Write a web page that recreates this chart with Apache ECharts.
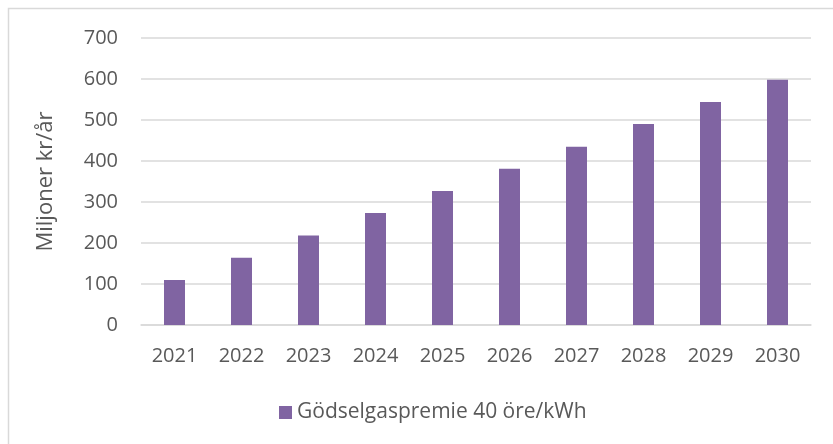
<!DOCTYPE html>
<html>
<head>
<meta charset="utf-8">
<script src="https://cdn.jsdelivr.net/npm/echarts@6/dist/echarts.min.js"></script>
<style>
  html, body { margin: 0; padding: 0; background: #fff; }
  #chart { width: 833px; height: 444px; }
</style>
</head>
<body>
<div id="chart"></div>
<script>
// Annual manure-gas premium, million SEK per year
const years = ['2021', '2022', '2023', '2024', '2025', '2026', '2027', '2028', '2029', '2030'];
const premium = [110, 164, 218, 273, 327, 381, 435, 490, 544, 598];
const seriesName = 'Gödselgaspremie 40 öre/kWh';
const yAxisName = 'Miljoner kr/år';

const textColor = '#595959';
const fontFamily = '"Open Sans", "Liberation Sans", sans-serif';

const chart = echarts.init(document.getElementById('chart'), null, { renderer: 'canvas' });

chart.setOption({
  animation: false,
  backgroundColor: '#ffffff',
  textStyle: { fontFamily: fontFamily, color: textColor },
  graphic: [{
    type: 'rect',
    shape: { x: 8.5, y: 8.5, width: 900, height: 500 },
    style: { fill: 'none', stroke: '#d9d9d9', lineWidth: 1.5 },
    silent: true
  }],
  grid: { left: 141, right: 22, top: 38, bottom: 119, containLabel: false },
  legend: {
    data: [seriesName],
    left: 274,
    top: 397,
    itemWidth: 13,
    itemHeight: 13,
    itemGap: 6,
    icon: 'rect',
    textStyle: { fontSize: 21, color: textColor, fontFamily: fontFamily }
  },
  xAxis: {
    type: 'category',
    data: years,
    axisLine: { show: true, lineStyle: { color: '#d9d9d9', width: 1.5 } },
    axisTick: { show: false },
    axisLabel: { fontSize: 20, color: textColor, margin: 21 }
  },
  yAxis: {
    type: 'value',
    min: 0,
    max: 700,
    interval: 100,
    name: yAxisName,
    nameLocation: 'middle',
    nameGap: 84,
    nameRotate: 90,
    nameTextStyle: { fontSize: 22, color: textColor, fontFamily: fontFamily },
    axisLine: { show: false },
    axisTick: { show: false },
    axisLabel: { fontSize: 20, color: textColor, margin: 23 },
    splitLine: { lineStyle: { color: '#d9d9d9', width: 1.5 } }
  },
  series: [{
    name: seriesName,
    type: 'bar',
    data: premium,
    barWidth: 21,
    itemStyle: { color: '#8064a2' }
  }]
});
</script>
</body>
</html>
